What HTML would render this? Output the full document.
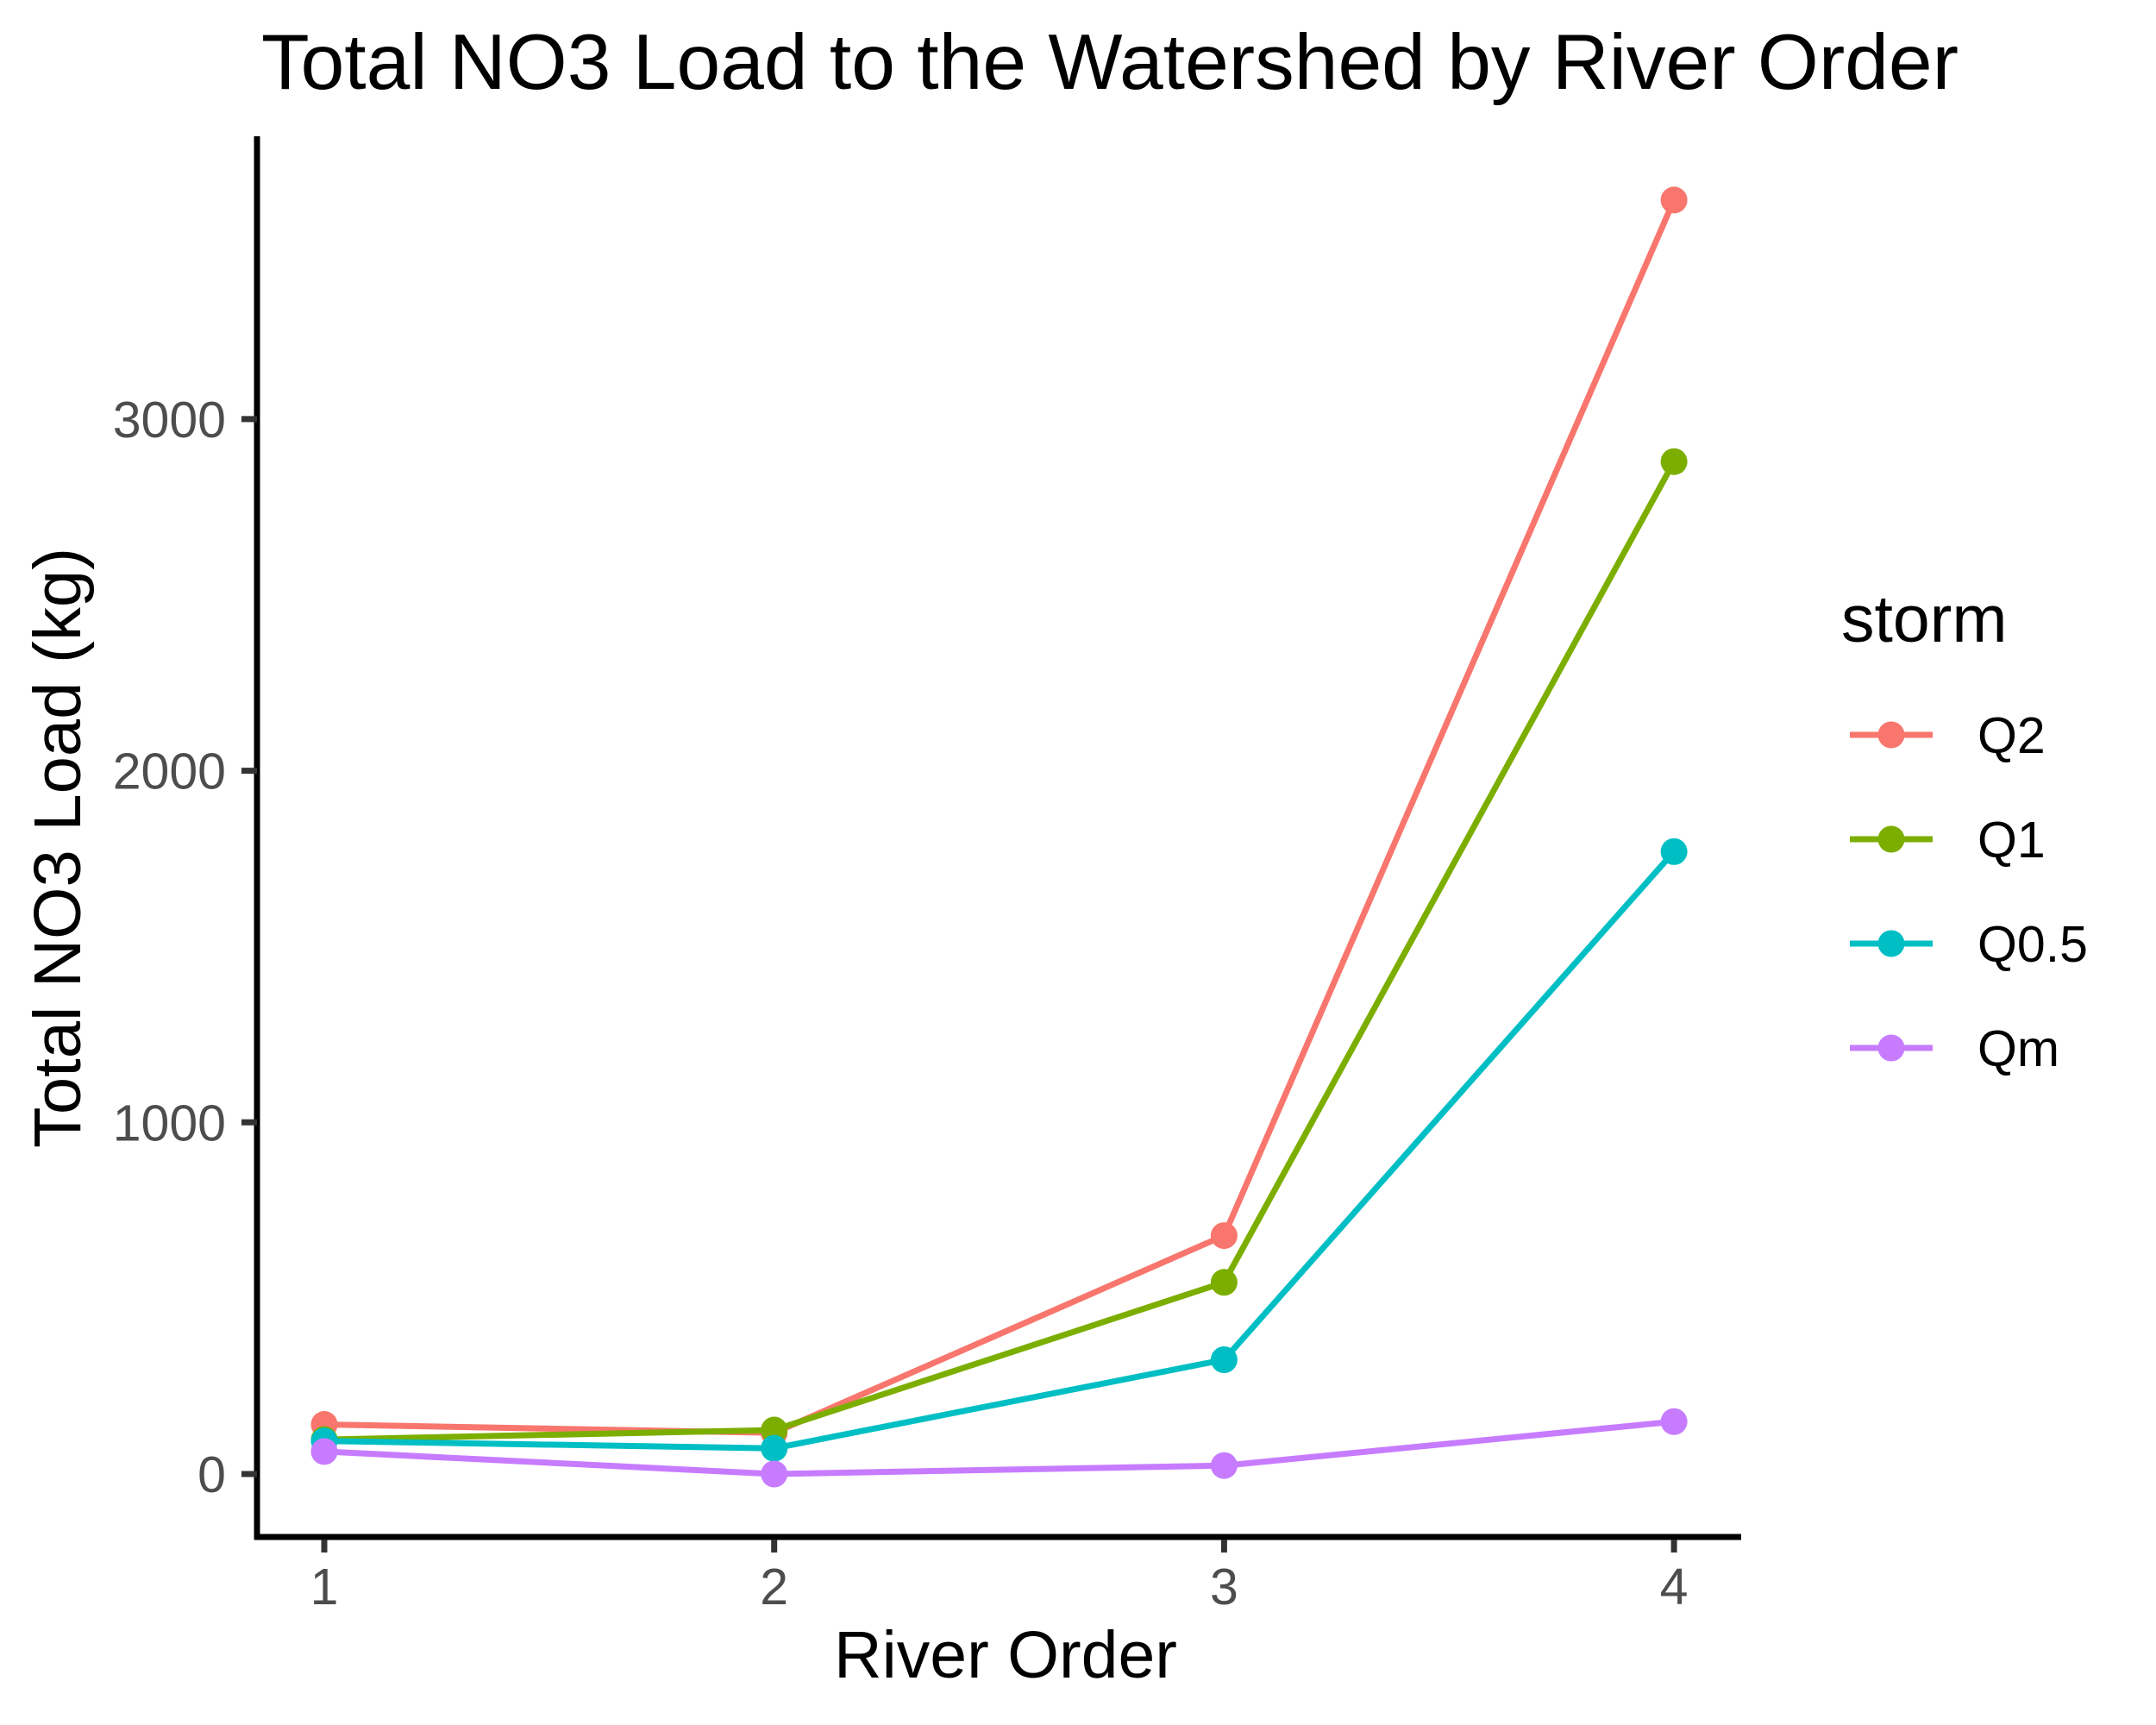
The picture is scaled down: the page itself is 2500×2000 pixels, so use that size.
<!DOCTYPE html>
<html><head><meta charset="utf-8"><style>
html,body{margin:0;padding:0;background:#fff;}
svg{display:block;font-family:"Liberation Sans",Arial,sans-serif;}
</style></head><body>
<svg id="chart" width="2500" height="2000" viewBox="0 0 2500 2000" xmlns="http://www.w3.org/2000/svg">
<rect x="0" y="0" width="2500" height="2000" fill="#fff"/>
<text x="303" y="103" font-size="91" fill="#000" textLength="1968" lengthAdjust="spacingAndGlyphs">Total NO3 Load to the Watershed by River Order</text>
<text transform="translate(93,983) rotate(-90)" text-anchor="middle" font-size="77" fill="#000" textLength="696" lengthAdjust="spacingAndGlyphs">Total NO3 Load (kg)</text>
<text x="1166" y="1945" text-anchor="middle" font-size="77" fill="#000">River Order</text>
<g id="axes"></g>
<g id="series"></g>
<g id="legend">
<text x="2135" y="744" font-size="77" fill="#000">storm</text>
</g>
</svg>
<script>
const categories = [1, 2, 3, 4];
const yTicks = [0, 1000, 2000, 3000];
const seriesNames = ["Q2", "Q1", "Q0.5", "Qm"];
const q2Values = [141, 117, 678, 3623];
const q1Values = [98, 125, 545, 2879];
const q05Values = [94, 73, 325, 1770];
const qmValues = [64, 0, 24, 149];

const allSeries = [q2Values, q1Values, q05Values, qmValues];
const colors = ["#F8766D", "#7CAE00", "#00BFC4", "#C77CFF"];
const NS = "http://www.w3.org/2000/svg";
function xScale(c){ return 376 + (c - 1) * 521.7; }
function yScale(v){ return 1709 - v * 0.4077; }
function mk(tag, attrs, parent){
  const e = document.createElementNS(NS, tag);
  for (const k in attrs) e.setAttribute(k, attrs[k]);
  parent.appendChild(e);
  return e;
}
const axes = document.getElementById('axes');
const yl = mk('line', {x1:298, y1:158, x2:298, y2:1785, stroke:'#000', 'stroke-width':7}, axes);


const xl = mk('line', {x1:295, y1:1782, x2:2019, y2:1782, stroke:'#000', 'stroke-width':7}, axes);


yTicks.forEach(t => {
  const y = yScale(t);
  const tk = mk('line', {x1:280, y1:y, x2:298, y2:y, stroke:'#333', 'stroke-width':7}, axes);
  
  
  const tl = mk('text', {x:262, y:y + 21, 'text-anchor':'end', 'font-size':59, fill:'#4d4d4d'}, axes);
  
  
  tl.textContent = t;
});
categories.forEach(c => {
  const x = xScale(c);
  const tk = mk('line', {x1:x, y1:1785, x2:x, y2:1800, stroke:'#333', 'stroke-width':7}, axes);
  
  
  const tl = mk('text', {x:x, y:1860, 'text-anchor':'middle', 'font-size':59, fill:'#4d4d4d'}, axes);
  
  
  tl.textContent = c;
});
const sg = document.getElementById('series');
allSeries.forEach((vals, i) => {
  const g = mk('g', {}, sg);
  
  
  const pts = vals.map((v, j) => xScale(categories[j]) + ',' + yScale(v)).join(' ');
  const pl = mk('polyline', {points:pts, fill:'none', stroke:colors[i], 'stroke-width':7, 'stroke-linejoin':'round'}, g);
  
  
  vals.forEach((v, j) => {
    const p = mk('circle', {cx:xScale(categories[j]), cy:yScale(v), r:15.5, fill:colors[i]}, g);
    
    
  });
});
const lg = document.getElementById('legend');
seriesNames.forEach((n, i) => {
  const y = 852 + i * 121;
  const g = mk('g', {}, lg);
  
  
  mk('line', {x1:2145, y1:y, x2:2241, y2:y, stroke:colors[i], 'stroke-width':7}, g);
  mk('circle', {cx:2193, cy:y, r:15.5, fill:colors[i]}, g);
  const t = mk('text', {x:2293, y:y + 21, 'font-size':59, fill:'#000'}, g);
  
  
  t.textContent = n;
});
</script>
</body></html>
